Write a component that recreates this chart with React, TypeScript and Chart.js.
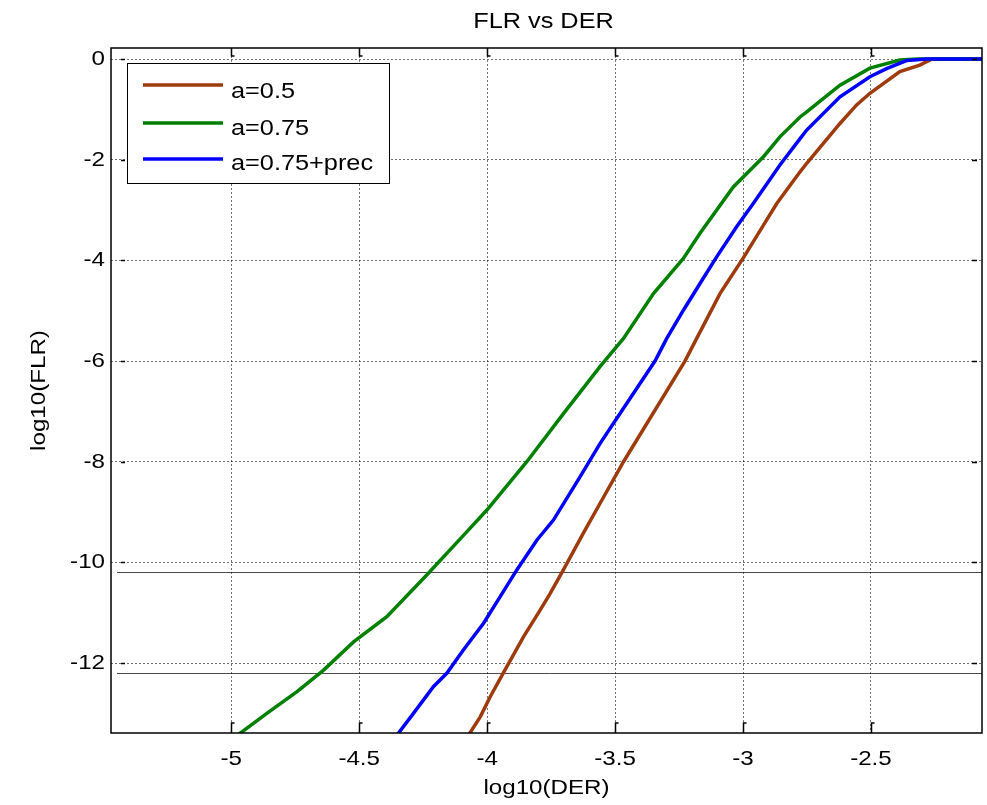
import { useEffect, useRef } from 'react';
import { Chart, registerables } from 'chart.js';

Chart.register(...registerables);

// ---- data ----
const seriesLabels = ['a=0.5', 'a=0.75', 'a=0.75+prec'];
const seriesColors = ['#9e3b0c', '#008000', '#0000ff'];

const brownX = [-4.075, -4.027, -3.988, -3.923, -3.858, -3.793, -3.754, -3.702, -3.624, -3.559, -3.467, -3.227, -3.181, -3.09, -3.077, -3.0, -2.908, -2.868, -2.777, -2.751, -2.621, -2.556, -2.504, -2.387, -2.309, -2.263, -2.066];
const brownY = [-13.45, -13.07, -12.67, -12.07, -11.48, -10.95, -10.62, -10.15, -9.42, -8.83, -8.0, -6.0, -5.55, -4.66, -4.56, -3.96, -3.2, -2.87, -2.24, -2.07, -1.28, -0.91, -0.68, -0.25, -0.12, 0, 0];

const greenX = [-4.98, -4.861, -4.743, -4.639, -4.522, -4.392, -4.236, -4.079, -4.001, -3.845, -3.701, -3.559, -3.467, -3.35, -3.233, -3.168, -3.038, -2.92, -2.855, -2.777, -2.751, -2.621, -2.504, -2.387, -2.32, -2.066];
const greenY = [-13.45, -13.0, -12.57, -12.14, -11.58, -11.08, -10.25, -9.39, -8.96, -8.0, -7.04, -6.11, -5.55, -4.66, -3.96, -3.46, -2.54, -1.94, -1.54, -1.15, -1.05, -0.52, -0.18, -0.02, 0, 0];

const blueX = [-4.355, -4.288, -4.21, -4.157, -4.093, -4.014, -3.949, -3.884, -3.806, -3.741, -3.637, -3.559, -3.45, -3.344, -3.298, -3.233, -3.168, -3.103, -3.025, -2.96, -2.855, -2.777, -2.751, -2.621, -2.504, -2.439, -2.361, -2.283, -2.066];
const blueY = [-13.45, -13.0, -12.47, -12.2, -11.74, -11.21, -10.68, -10.15, -9.56, -9.16, -8.3, -7.64, -6.81, -6.0, -5.55, -4.99, -4.46, -3.93, -3.33, -2.87, -2.1, -1.58, -1.41, -0.75, -0.35, -0.19, -0.03, 0, 0];

const xTicks = [-5, -4.5, -4, -3.5, -3, -2.5];
const yTicks = [-12, -10, -8, -6, -4, -2, 0];
const extraLines = [-10.2, -12.2];

const X_MIN = -5.47;
const X_MAX = -2.066;
const Y_MIN = -13.39;
const Y_MAX = 0.22;

const FONT = "'Liberation Sans', Arial, sans-serif";
const STRETCH = 1.15;

const toPts = (xs: number[], ys: number[]) => xs.map((x, i) => ({ x, y: ys[i] }));

const decorPlugin = {
  id: 'decor',
  beforeDatasetsDraw(chart: any) {
    const { ctx, chartArea } = chart;
    const ys = chart.scales.y;
    ctx.save();
    ctx.strokeStyle = 'rgba(0,0,0,0.7)';
    ctx.lineWidth = 1;
    extraLines.forEach((v) => {
      const py = Math.round(ys.getPixelForValue(v)) + 0.5;
      ctx.beginPath();
      ctx.moveTo(chartArea.left + 6, py);
      ctx.lineTo(chartArea.right, py);
      ctx.stroke();
    });
    ctx.restore();
  },
  afterDraw(chart: any) {
    const { ctx, chartArea } = chart;
    const { left, top, right, bottom } = chartArea;
    const xs = chart.scales.x;
    const ys = chart.scales.y;
    ctx.save();
    // frame
    ctx.strokeStyle = '#000';
    ctx.lineWidth = 1.5;
    ctx.strokeRect(left, top, right - left, bottom - top);
    // inner tick marks
    ctx.lineWidth = 1.5;
    xTicks.forEach((v) => {
      const px = Math.round(xs.getPixelForValue(v)) + 0.5;
      ctx.beginPath();
      ctx.moveTo(px, top);
      ctx.lineTo(px, top + 8);
      ctx.lineTo(px + 3, top + 8);
      ctx.moveTo(px, bottom);
      ctx.lineTo(px, bottom - 10);
      ctx.lineTo(px + 3, bottom - 10);
      ctx.stroke();
    });
    yTicks.forEach((v) => {
      const py = Math.round(ys.getPixelForValue(v)) + 0.5;
      ctx.beginPath();
      ctx.moveTo(left + 10, py);
      ctx.lineTo(left + 14, py);
      ctx.moveTo(right - 10, py);
      ctx.lineTo(right - 5, py);
      ctx.stroke();
    });
    // legend
    const bx = left + 16;
    const by = top + 15;
    const bw = 262;
    const bh = 120;
    ctx.fillStyle = '#fff';
    ctx.fillRect(bx, by, bw, bh);
    ctx.strokeStyle = '#000';
    ctx.lineWidth = 1;
    ctx.strokeRect(bx + 0.5, by + 0.5, bw, bh);
    const lineYs = [22, 60, 96];
    const textYs = [35, 71.5, 106.5];
    chart.data.datasets.forEach((ds: any, i: number) => {
      ctx.strokeStyle = ds.borderColor;
      ctx.lineWidth = 3.5;
      ctx.beginPath();
      ctx.moveTo(bx + 16, by + lineYs[i]);
      ctx.lineTo(bx + 96, by + lineYs[i]);
      ctx.stroke();
      ctx.fillStyle = '#000';
      ctx.font = `22px ${FONT}`;
      ctx.textAlign = 'left';
      ctx.textBaseline = 'alphabetic';
      ctx.fillText(ds.label, bx + 104, by + textYs[i]);
    });
    // title
    ctx.fillStyle = '#000';
    ctx.font = `22px ${FONT}`;
    ctx.textAlign = 'center';
    ctx.textBaseline = 'alphabetic';
    ctx.fillText('FLR vs DER', (left + right) / 2 - 3, 28);
    ctx.restore();
  },
};

export default function App() {
  const ref = useRef<HTMLCanvasElement | null>(null);
  useEffect(() => {
    const canvas = ref.current!;
    const ctx: any = canvas.getContext('2d');
    if (!ctx.__origFill) {
      ctx.__origFill = ctx.fillText;
      ctx.fillText = function (t: string, x: number, y: number) {
        this.save();
        this.translate(x, y);
        this.scale(STRETCH, 1);
        ctx.__origFill.call(this, t, 0, 0);
        this.restore();
      };
    }
    Chart.defaults.font.family = FONT;
    Chart.defaults.color = '#000';
    const chart = new Chart(canvas, {
      type: 'line',
      data: {
        datasets: [
          { label: seriesLabels[0], data: toPts(brownX, brownY), borderColor: seriesColors[0], order: 3 },
          { label: seriesLabels[1], data: toPts(greenX, greenY), borderColor: seriesColors[1], order: 2 },
          { label: seriesLabels[2], data: toPts(blueX, blueY), borderColor: seriesColors[2], order: 1 },
        ].map((d) => ({ ...d, borderWidth: 3.5, pointRadius: 0, tension: 0, fill: false })),
      },
      options: {
        animation: false,
        responsive: false,
        maintainAspectRatio: false,
        parsing: false as any,
        layout: { padding: { top: 48, right: 5, left: 0, bottom: 0 } },
        plugins: { legend: { display: false }, title: { display: false }, tooltip: { enabled: false } },
        scales: {
          x: {
            type: 'linear',
            min: X_MIN,
            max: X_MAX,
            afterBuildTicks: (s: any) => {
              s.ticks = xTicks.map((v) => ({ value: v }));
            },
            afterFit: (s: any) => {
              s.height = 72;
            },
            ticks: {
              autoSkip: false,
              maxRotation: 0,
              padding: 14,
              font: { size: 21 },
              color: '#000',
              callback: (v: any) => String(v),
            },
            grid: { color: 'rgba(0,0,0,0.55)', lineWidth: 1, drawTicks: false },
            border: { display: false, dash: [2, 2] },
            title: { display: true, text: 'log10(DER)', font: { size: 21 }, color: '#000', padding: { top: 0, bottom: 4 } },
          },
          y: {
            type: 'linear',
            min: Y_MIN,
            max: Y_MAX,
            afterBuildTicks: (s: any) => {
              s.ticks = yTicks.map((v) => ({ value: v }));
            },
            afterFit: (s: any) => {
              s.width = 111;
            },
            ticks: {
              autoSkip: false,
              padding: 6,
              font: { size: 21 },
              color: '#000',
              callback: (v: any) => String(v),
            },
            grid: { color: 'rgba(0,0,0,0.55)', lineWidth: 1, drawTicks: false },
            border: { display: false, dash: [2, 2] },
            title: { display: true, text: 'log10(FLR)', font: { size: 21 }, color: '#000', padding: { top: 27, bottom: 0 } },
          },
        },
      },
      plugins: [decorPlugin],
    });
    return () => chart.destroy();
  }, []);
  return (
    <div style={{ position: 'fixed', left: 0, top: 0, width: 987, height: 805, background: '#fff' }}>
      <canvas ref={ref} width={987} height={805} />
    </div>
  );
}
